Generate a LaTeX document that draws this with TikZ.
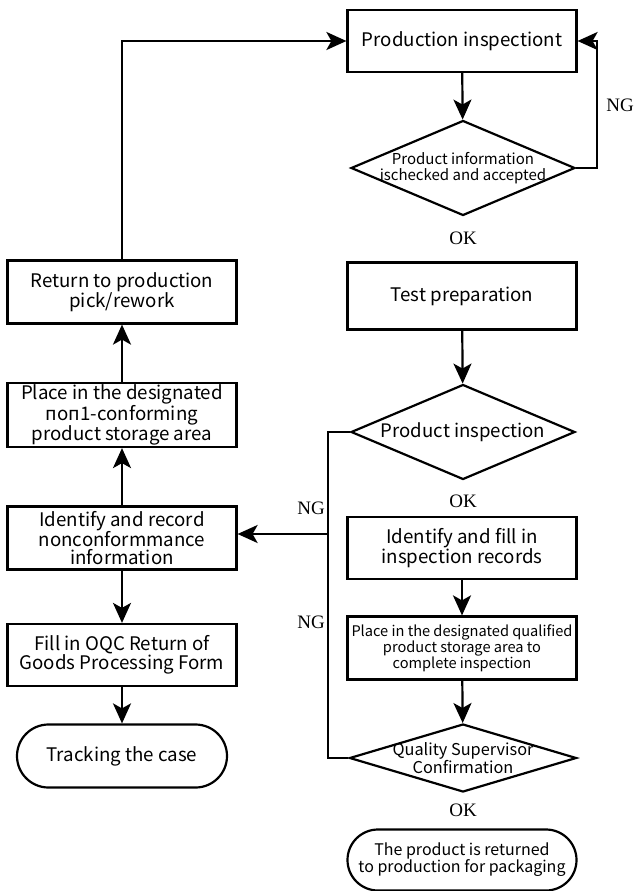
\documentclass[tikz,border=0pt]{standalone}
\usepackage{fontspec}
\setmainfont{Noto Sans CJK SC}
\newfontfamily\okfont{Liberation Serif}
\usetikzlibrary{arrows.meta}
\usetikzlibrary{shapes.geometric}
\usetikzlibrary{shapes.misc}

\begin{document}
\begin{tikzpicture}[x=1pt,y=-1pt,
    line width=2.2pt,
    >={Stealth[length=20pt,width=18pt,inset=5pt]},
    box/.style={draw, rectangle, minimum width=229pt, minimum height=62pt,
      align=center, inner sep=1pt, font=\fontsize{18.7}{18}\selectfont},
    dia/.style={draw, diamond, minimum width=224pt, minimum height=95pt, inner sep=0pt},
    diatext/.style={align=center, inner sep=0pt, font=\fontsize{15}{16}\selectfont},
    term/.style={draw, rounded rectangle, minimum width=231pt, minimum height=61pt,
      align=center, inner sep=1pt, font=\fontsize{16}{17}\selectfont},
    tag/.style={font=\okfont\fontsize{19}{19}\selectfont, inner sep=0pt}]
    \useasboundingbox (0,0) rectangle (642,891);
    % right column
    \node[box] (prodins) at (462, 41) {Production inspectiont};
    \node[dia] (chkinfo) at (463,168) {};
    \node[diatext] (chkinfot) at (chkinfo) {Product information\\ischecked and accepted};
    \node[box, minimum height=67pt] (testprep) at (462,296) {Test preparation};
    \node[dia] (prodchk) at (463,432) {};
    \node[diatext, font=\fontsize{18.6}{18}\selectfont] (prodchkt) at (prodchk) {Product inspection};
    \node[box] (fillrec) at (462,548) {Identify and fill in\\inspection records};
    \node[box, minimum height=63pt, font=\fontsize{14.6}{16}\selectfont] (qualarea) at (462,648)
      {Place in the designated qualified\\product storage area to\\complete inspection};
    \node[dia, minimum width=227pt, minimum height=68pt] (qsconf) at (463,758) {};
    \node[diatext, font=\fontsize{16.3}{17}\selectfont] (qsconft) at (qsconf) {Quality Supervisor\\Confirmation};
    \node[term] (backpack) at (462,860) {The product is returned\\to production for packaging};
    % left column
    \node[box, minimum height=63pt] (rework) at (122,292) {Return to production\\pick/rework};
    \node[box, minimum height=64pt] (ncarea) at (122,415) {Place in the designated\\поп1-conforming\\product storage area};
    \node[box, minimum height=63pt] (ncrec) at (122,538) {Identify and record\\nonconformmance\\information};
    \node[box] (oqcform) at (122,655) {Fill in OQC Return of\\Goods Processing Form};
    \node[term, minimum width=212pt, minimum height=63pt, font=\fontsize{18.7}{18}\selectfont] (track) at (122,756) {Tracking the case};
    % labels
    \node[tag] (ng1) at (620,105) {NG};
    \node[tag] (ok1) at (463,238) {OK};
    \node[tag] (ok2) at (463,501) {OK};
    \node[tag] (ng2) at (311,508) {NG};
    \node[tag] (ng3) at (311,622) {NG};
    \node[tag] (ok3) at (463,810) {OK};
    \coordinate (ngloop) at (597,168);
    \coordinate (ngrail) at (328,758);
    \coordinate (ngtap) at (328,534);
    % connectors
    \draw[->] (prodins) -- (chkinfo);
    \draw[->] (chkinfo.east) -- (ngloop) |- (prodins.east);
    \draw[->] (testprep) -- (prodchk);
    \draw (prodchk.west) -| (ngrail) -- (qsconf.west);
    \draw[->] (ngtap) -- (ngtap -| ncrec.east);
    \draw[->] (fillrec) -- (qualarea);
    \draw[->] (qualarea) -- (qsconf);
    \draw[->] (ncrec) -- (ncarea);
    \draw[->] (ncarea) -- (rework);
    \draw[->] (rework.north) |- (prodins.west);
    \draw[->] (ncrec) -- (oqcform);
    \draw[->] (oqcform) -- (track);
\end{tikzpicture}
\end{document}
